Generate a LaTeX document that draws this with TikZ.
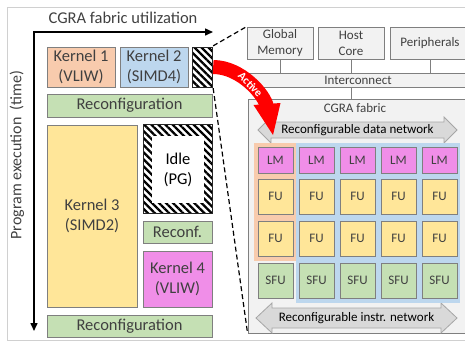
\documentclass[tikz,border=0pt]{standalone}
\usepackage{fontspec}
\setmainfont{Carlito}
\usetikzlibrary{arrows.meta,patterns.meta}
\definecolor{salmon}{HTML}{F8CBAD}
\definecolor{lblue}{HTML}{BDD7EE}
\definecolor{lgreen}{HTML}{C5E0B4}
\definecolor{lyellow}{HTML}{FFE699}
\definecolor{lmag}{HTML}{F08EE8}
\definecolor{bgray}{HTML}{7F7F7F}
\definecolor{boxgray}{HTML}{F2F2F2}
\definecolor{netgray}{HTML}{D9D9D9}
\definecolor{netline}{HTML}{A6A6A6}
\definecolor{txt}{HTML}{404040}
\definecolor{frame}{HTML}{D0D0D0}
\definecolor{actred}{HTML}{FF0000}
\newcommand\myL{\fontsize{16.5}{20}\selectfont}
\newcommand\myS{\fontsize{13}{16}\selectfont}
\tikzset{
  kbox/.style={draw=bgray, line width=0.8pt, text=txt, font=\myL, align=center, inner sep=0pt},
  rbox/.style={draw=bgray, fill=boxgray, line width=0.8pt, text=txt, font=\myS, align=center, inner sep=0pt},
  cell/.style={rbox, minimum width=35pt},
  hatch/.style={draw=black!85, line width=0.8pt, pattern={Lines[angle=-45,distance=5pt,line width=2.3pt]}, pattern color=black},
  conn/.style={draw=bgray, line width=0.8pt},
  axis/.style={line width=1.5pt, black, {Triangle[length=8pt,width=7pt]}-{Triangle[length=8pt,width=7pt]}},
  zoomline/.style={black, line width=1.2pt, dash pattern=on 5pt off 3pt},
  net/.style={draw=netline, fill=netgray, line width=0.8pt},
}
\begin{document}
\begin{tikzpicture}[x=1pt,y=-1pt]
\useasboundingbox (0,0) rectangle (465,341);
\draw[frame, line width=0.8pt] (7,7) rectangle (480,340);

% axes
\coordinate (o) at (34,32);
\coordinate (xend) at (213,32);
\coordinate (yend) at (34,331);
\draw[axis] (xend) -- (o) -- (yend);
\node[text=txt, font=\myL] (xlab) at (123,18) {CGRA fabric utilization};
\node[text=txt, font=\fontsize{16}{19}\selectfont, rotate=90] (ylab) at (17,155) {Program execution\ \ (time)};

% left panel
\node[kbox, fill=salmon, minimum width=68pt, minimum height=40pt] (k1) at (81,67) {Kernel 1\\(VLIW)};
\node[kbox, fill=lblue, minimum width=68pt, minimum height=40pt] (k2) at (154,67) {Kernel 2\\(SIMD4)};
\node[hatch, minimum width=20pt, minimum height=40pt] (h1) at (202,67) {};
\node[kbox, fill=lgreen, minimum width=165pt, minimum height=23pt] (rc1) at (129.5,105.5) {Reconfiguration};
\node[kbox, fill=lyellow, minimum width=90pt, minimum height=182pt] (k3) at (92,216) {Kernel 3\\(SIMD2)};
\node[hatch, minimum width=69pt, minimum height=89pt] (idle) at (177.5,168.5) {};
\node[fill=white, text=black, font=\myL, align=center, inner sep=0pt, minimum width=52pt, minimum height=67pt] (idlein) at (178,169.5) {Idle\\(PG)};
\node[kbox, fill=lgreen, minimum width=69pt, minimum height=22pt] (rc2) at (177.5,232) {Reconf.};
\node[kbox, fill=lmag, minimum width=69pt, minimum height=56pt] (k4) at (177.5,279) {Kernel 4\\(VLIW)};
\node[kbox, fill=lgreen, minimum width=165pt, minimum height=22pt] (rc3) at (129.5,326) {Reconfiguration};

% right panel
\node[rbox, minimum width=66pt, minimum height=32pt] (gm) at (280,43) {Global\\Memory};
\node[rbox, minimum width=66pt, minimum height=32pt] (hc) at (351,43) {Host\\Core};
\node[rbox, minimum width=80pt, minimum height=32pt] (per) at (430,43) {Peripherals};
\node[rbox, minimum width=220pt, minimum height=14pt] (ic) at (358,80) {Interconnect};
\node[rbox, minimum width=222pt, minimum height=234pt] (cgra) at (359,216) {};
\node[text=txt, font=\myS] (cgralab) at (355,108) {CGRA fabric};
\draw[conn] (gm.south) -- (gm.south |- ic.north);
\draw[conn] (hc.south) -- (hc.south |- ic.north);
\draw[conn] (per.south) -- (per.south |- ic.north);
\draw[conn] (hc.south |- ic.south) -- (hc.south |- cgra.north);

% zoom lines
\draw[zoomline] (h1.north east) -- (gm.north west);
\draw[zoomline] (h1.south east) -- (cgra.south west);

% networks
\draw[net] (258,130) -- (271,117) -- (271,122) -- (444,122) -- (444,117) -- (457,130) -- (444,143) -- (444,138) -- (271,138) -- (271,143) -- cycle;
\node[text=black, font=\myS] (dnet) at (357.5,130) {Reconfigurable data network};
\draw[net] (256,318) -- (272,303) -- (272,308) -- (441,308) -- (441,303) -- (457,318) -- (441,333) -- (441,328) -- (272,328) -- (272,333) -- cycle;
\node[text=black, font=\myS] (inet) at (356.5,318) {Reconfigurable instr. network};

% backgrounds
\fill[salmon] (254,143) rectangle (296,261);
\fill[lblue] (296,143) rectangle (460,303);

% cells
\foreach \i/\x in {1/275.5,2/316.5,3/357.5,4/398.5,5/439.5}{
  \node[cell, fill=lmag, minimum height=26pt] (lm\i) at (\x,160) {LM};
  \node[cell, fill=lyellow, minimum height=35pt] (fua\i) at (\x,196.5) {FU};
  \node[cell, fill=lyellow, minimum height=35pt] (fub\i) at (\x,238.5) {FU};
  \node[cell, fill=lgreen, minimum height=35pt] (sfu\i) at (\x,280.5) {SFU};
}

% active arrow
\coordinate (as) at (h1.east);
\coordinate (ae) at (267,107);
\draw[actred, line width=14pt] (as) .. controls (241,67) and (265,95) .. (ae);
\fill[actred] (253.5,105) -- (280.5,103) -- (273,135) -- cycle;
\node[text=white, font=\fontsize{11.5}{13}\selectfont\bfseries, rotate=-46, inner sep=0pt] (act) at (250.5,84.5) {Active};
\end{tikzpicture}
\end{document}
